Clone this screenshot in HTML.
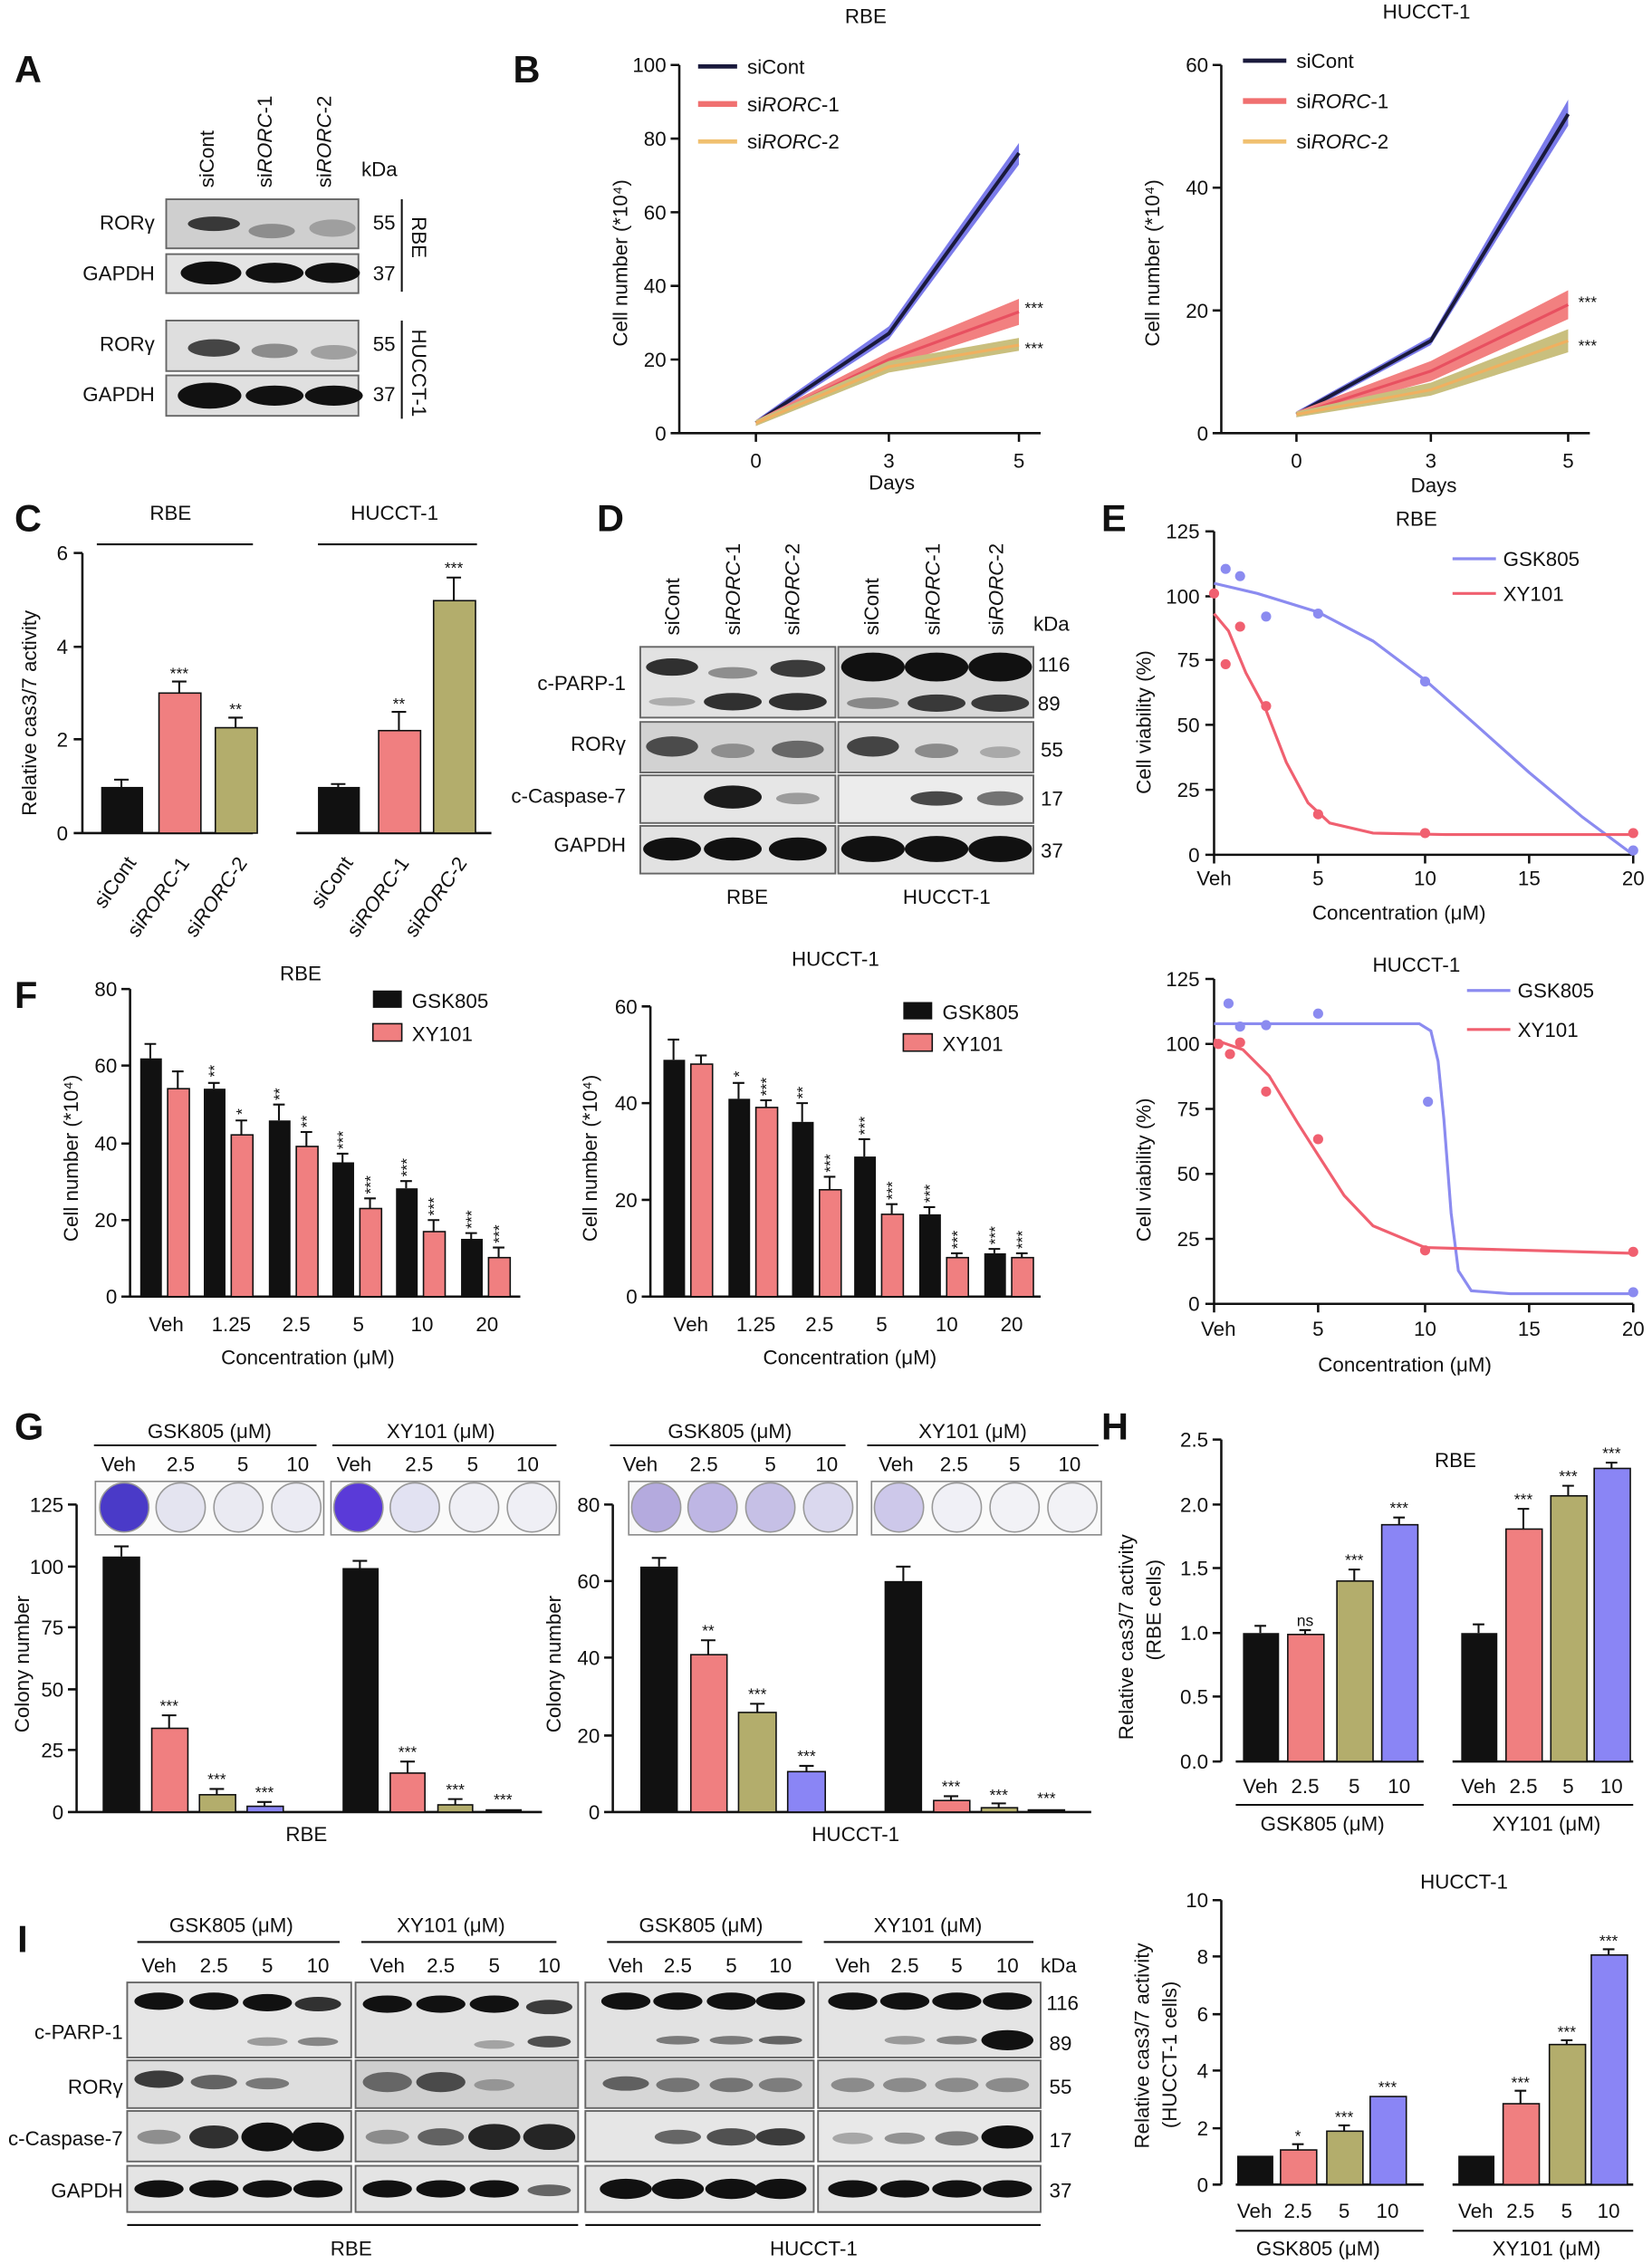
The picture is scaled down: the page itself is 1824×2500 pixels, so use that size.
<!DOCTYPE html>
<html><head><meta charset="utf-8"><style>
html,body{margin:0;padding:0;background:#fff}
svg{display:block}
text{font-family:"Liberation Sans",Arial,sans-serif;fill:#111}
</style></head><body>
<svg width="1824" height="2500" viewBox="0 0 1143 1568" preserveAspectRatio="none" xmlns="http://www.w3.org/2000/svg">
<style>
.t{font-size:14px}.s{font-size:13px}.L{font-size:26px;font-weight:bold}.ax{stroke:#111;stroke-width:1.6;fill:none}
.e{stroke:#111;stroke-width:1.3}.st{font-size:11px}
</style>
<!-- Panel labels -->
<text class="L" x="10" y="57">A</text><text class="L" x="355" y="57">B</text>
<text class="L" x="10" y="368">C</text><text class="L" x="413" y="368">D</text><text class="L" x="762" y="368">E</text>
<text class="L" x="10" y="698">F</text><text class="L" x="10" y="997">G</text><text class="L" x="762" y="997">H</text>
<text class="L" x="12" y="1352">I</text>

<!-- ===== A ===== -->
<g class="t">
<text transform="translate(148,130) rotate(-90)">siCont</text>
<text transform="translate(188,130) rotate(-90)">si<tspan font-style="italic">RORC</tspan>-1</text>
<text transform="translate(229,130) rotate(-90)">si<tspan font-style="italic">RORC</tspan>-2</text>
<text x="250" y="122">kDa</text>
<text x="107" y="159" text-anchor="end">RORγ</text><text x="107" y="194" text-anchor="end">GAPDH</text>
<text x="107" y="243" text-anchor="end">RORγ</text><text x="107" y="278" text-anchor="end">GAPDH</text>
<text x="258" y="159">55</text><text x="258" y="194">37</text><text x="258" y="243">55</text><text x="258" y="278">37</text>
<text transform="translate(285,150) rotate(90)">RBE</text>
<text transform="translate(285,228) rotate(90)">HUCCT-1</text>
</g>
<line x1="278" y1="138" x2="278" y2="202" class="e"/><line x1="278" y1="222" x2="278" y2="290" class="e"/>
<g stroke="#666" stroke-width="1.2">
<rect x="115" y="138" width="133" height="34" fill="#cfcfcf"/><rect x="115" y="176" width="133" height="27" fill="#e4e4e4"/>
<rect x="115" y="222" width="133" height="35" fill="#dedede"/><rect x="115" y="260" width="133" height="28" fill="#e0e0e0"/>
</g>
<g fill="#111">
<ellipse cx="148" cy="155" rx="18" ry="5" opacity=".8"/><ellipse cx="188" cy="160" rx="16" ry="5" opacity=".35"/><ellipse cx="230" cy="158" rx="16" ry="6" opacity=".25"/>
<ellipse cx="146" cy="189" rx="21" ry="8"/><ellipse cx="190" cy="189" rx="20" ry="7"/><ellipse cx="230" cy="189" rx="19" ry="7"/>
<ellipse cx="148" cy="241" rx="18" ry="6" opacity=".75"/><ellipse cx="190" cy="243" rx="16" ry="5" opacity=".4"/><ellipse cx="231" cy="244" rx="16" ry="5" opacity=".3"/>
<ellipse cx="145" cy="274" rx="22" ry="9"/><ellipse cx="190" cy="274" rx="20" ry="7"/><ellipse cx="231" cy="274" rx="20" ry="7"/>
</g>

<!-- ===== B RBE ===== -->
<text class="t" x="599" y="16" text-anchor="middle">RBE</text>
<path class="ax" d="M470,45 V300 H720 M464,45H470 M464,96H470 M464,147H470 M464,198H470 M464,249H470 M464,300H470 M523,300V306 M615,300V306 M705,300V306"/>
<g class="t" text-anchor="end"><text x="461" y="50">100</text><text x="461" y="101">80</text><text x="461" y="152">60</text><text x="461" y="203">40</text><text x="461" y="254">20</text><text x="461" y="305">0</text></g>
<g class="t" text-anchor="middle"><text x="523" y="324">0</text><text x="615" y="324">3</text><text x="705" y="324">5</text><text x="617" y="339">Days</text></g>
<text class="t" transform="translate(434,240) rotate(-90)">Cell number (*10⁴)</text>
<polygon points="523,291 615,226 705,99 705,114 615,235 523,295" fill="#7b7bea"/>
<polyline points="523,293 615,231 705,106" fill="none" stroke="#1a1a3c" stroke-width="2.5"/>
<polygon points="523,291 615,244 705,207 705,225 615,254 523,295" fill="#f28080"/>
<polyline points="523,293 615,249 705,216" fill="none" stroke="#e85060" stroke-width="2"/>
<polygon points="523,291 615,250 705,234 705,243 615,258 523,295" fill="#c9bf7e"/>
<polyline points="523,293 615,254 705,239" fill="none" stroke="#f0b060" stroke-width="2"/>
<line x1="483" y1="46" x2="510" y2="46" stroke="#1a1a3c" stroke-width="3"/><line x1="483" y1="72" x2="510" y2="72" stroke="#f07070" stroke-width="4"/><line x1="483" y1="98" x2="510" y2="98" stroke="#f0c070" stroke-width="3"/>
<g class="t"><text x="517" y="51">siCont</text><text x="517" y="77">si<tspan font-style="italic">RORC</tspan>-1</text><text x="517" y="103">si<tspan font-style="italic">RORC</tspan>-2</text></g>
<g class="st"><text x="709" y="217">***</text><text x="709" y="245">***</text></g>

<!-- ===== B HUCCT ===== -->
<text class="t" x="987" y="13" text-anchor="middle">HUCCT-1</text>
<path class="ax" d="M845,45 V300 H1100 M839,45H845 M839,130H845 M839,215H845 M839,300H845 M897,300V306 M990,300V306 M1085,300V306"/>
<g class="t" text-anchor="end"><text x="836" y="50">60</text><text x="836" y="135">40</text><text x="836" y="220">20</text><text x="836" y="305">0</text></g>
<g class="t" text-anchor="middle"><text x="897" y="324">0</text><text x="990" y="324">3</text><text x="1085" y="324">5</text><text x="992" y="341">Days</text></g>
<text class="t" transform="translate(802,240) rotate(-90)">Cell number (*10⁴)</text>
<polygon points="897,285 990,233 1085,69 1085,87 990,239 897,289" fill="#7b7bea"/>
<polyline points="897,287 990,236 1085,79" fill="none" stroke="#1a1a3c" stroke-width="2.5"/>
<polygon points="897,285 990,250 1085,201 1085,221 990,264 897,289" fill="#f28080"/>
<polyline points="897,287 990,257 1085,211" fill="none" stroke="#e85060" stroke-width="2"/>
<polygon points="897,285 990,265 1085,228 1085,244 990,274 897,289" fill="#c9bf7e"/>
<polyline points="897,287 990,270 1085,236" fill="none" stroke="#f0b060" stroke-width="2"/>
<line x1="860" y1="42" x2="890" y2="42" stroke="#1a1a3c" stroke-width="3"/><line x1="860" y1="70" x2="890" y2="70" stroke="#f07070" stroke-width="4"/><line x1="860" y1="98" x2="890" y2="98" stroke="#f0c070" stroke-width="3"/>
<g class="t"><text x="897" y="47">siCont</text><text x="897" y="75">si<tspan font-style="italic">RORC</tspan>-1</text><text x="897" y="103">si<tspan font-style="italic">RORC</tspan>-2</text></g>
<g class="st"><text x="1092" y="213">***</text><text x="1092" y="243">***</text></g>

<!-- ===== C ===== -->
<g class="t" text-anchor="middle"><text x="118" y="360">RBE</text><text x="273" y="360">HUCCT-1</text></g>
<line x1="67" y1="377" x2="175" y2="377" class="e"/><line x1="220" y1="377" x2="330" y2="377" class="e"/>
<path class="ax" d="M57,383 V577 H175 M205,577 H340 M51,383H57 M51,448H57 M51,512H57 M51,577H57"/>
<g class="t" text-anchor="end"><text x="47" y="388">6</text><text x="47" y="453">4</text><text x="47" y="517">2</text><text x="47" y="582">0</text></g>
<text class="t" transform="translate(25,565) rotate(-90)">Relative cas3/7 activity</text>
<rect x="70" y="545" width="29" height="32" fill="#111"/><rect x="110" y="480" width="29" height="97" fill="#f07f80" stroke="#111"/><rect x="149" y="504" width="29" height="73" fill="#b3ad6c" stroke="#111"/>
<rect x="220" y="545" width="29" height="32" fill="#111"/><rect x="262" y="506" width="29" height="71" fill="#f07f80" stroke="#111"/><rect x="300" y="416" width="29" height="161" fill="#b3ad6c" stroke="#111"/>
<path class="e" d="M84,545V540M79,540H89 M124,480V472M119,472H129 M163,504V497M158,497H168 M234,545V543M229,543H239 M276,506V493M271,493H281 M314,416V400M309,400H319"/>
<g class="st" text-anchor="middle"><text x="124" y="470">***</text><text x="163" y="495">**</text><text x="276" y="491">**</text><text x="314" y="397">***</text></g>
<g class="t">
<text transform="translate(72,630) rotate(-55)" text-anchor="start">siCont</text>
<text transform="translate(95,650) rotate(-55)">si<tspan font-style="italic">RORC</tspan>-1</text>
<text transform="translate(135,650) rotate(-55)">si<tspan font-style="italic">RORC</tspan>-2</text>
<text transform="translate(222,630) rotate(-55)">siCont</text>
<text transform="translate(247,650) rotate(-55)">si<tspan font-style="italic">RORC</tspan>-1</text>
<text transform="translate(287,650) rotate(-55)">si<tspan font-style="italic">RORC</tspan>-2</text>
</g>

<!-- ===== D ===== -->
<g class="t">
<text transform="translate(470,440) rotate(-90)">siCont</text>
<text transform="translate(512,440) rotate(-90)">si<tspan font-style="italic">RORC</tspan>-1</text>
<text transform="translate(553,440) rotate(-90)">si<tspan font-style="italic">RORC</tspan>-2</text>
<text transform="translate(608,440) rotate(-90)">siCont</text>
<text transform="translate(650,440) rotate(-90)">si<tspan font-style="italic">RORC</tspan>-1</text>
<text transform="translate(694,440) rotate(-90)">si<tspan font-style="italic">RORC</tspan>-2</text>
<text x="715" y="437">kDa</text>
<text x="433" y="478" text-anchor="end">c-PARP-1</text><text x="433" y="520" text-anchor="end">RORγ</text>
<text x="433" y="556" text-anchor="end">c-Caspase-7</text><text x="433" y="590" text-anchor="end">GAPDH</text>
<text x="718" y="465">116</text><text x="718" y="492">89</text><text x="720" y="524">55</text><text x="720" y="558">17</text><text x="720" y="594">37</text>
<text x="517" y="626" text-anchor="middle">RBE</text><text x="655" y="626" text-anchor="middle">HUCCT-1</text>
</g>
<g stroke="#666" stroke-width="1.2">
<rect x="443" y="448" width="135" height="49" fill="#e2e2e2"/><rect x="443" y="500" width="135" height="35" fill="#d2d2d2"/><rect x="443" y="537" width="135" height="33" fill="#e6e6e6"/><rect x="443" y="572" width="135" height="33" fill="#e2e2e2"/>
<rect x="580" y="448" width="135" height="49" fill="#d8d8d8"/><rect x="580" y="500" width="135" height="35" fill="#dcdcdc"/><rect x="580" y="537" width="135" height="33" fill="#ececec"/><rect x="580" y="572" width="135" height="33" fill="#e2e2e2"/>
</g>
<g fill="#111">
<ellipse cx="465" cy="462" rx="18" ry="6" opacity=".85"/><ellipse cx="507" cy="466" rx="17" ry="4" opacity=".4"/><ellipse cx="552" cy="463" rx="19" ry="6" opacity=".8"/>
<ellipse cx="465" cy="486" rx="16" ry="3" opacity=".25"/><ellipse cx="507" cy="486" rx="20" ry="6" opacity=".85"/><ellipse cx="552" cy="486" rx="20" ry="6" opacity=".85"/>
<ellipse cx="604" cy="462" rx="22" ry="10"/><ellipse cx="648" cy="462" rx="22" ry="10"/><ellipse cx="692" cy="462" rx="22" ry="10"/>
<ellipse cx="604" cy="487" rx="18" ry="4" opacity=".4"/><ellipse cx="648" cy="487" rx="20" ry="6" opacity=".8"/><ellipse cx="692" cy="487" rx="20" ry="6" opacity=".8"/>
<ellipse cx="465" cy="517" rx="18" ry="7" opacity=".7"/><ellipse cx="507" cy="520" rx="15" ry="5" opacity=".35"/><ellipse cx="552" cy="519" rx="18" ry="6" opacity=".55"/>
<ellipse cx="604" cy="517" rx="18" ry="7" opacity=".75"/><ellipse cx="648" cy="520" rx="15" ry="5" opacity=".4"/><ellipse cx="692" cy="521" rx="14" ry="4" opacity=".25"/>
<ellipse cx="507" cy="552" rx="20" ry="8" opacity=".95"/><ellipse cx="552" cy="553" rx="15" ry="4" opacity=".35"/>
<ellipse cx="648" cy="553" rx="18" ry="5" opacity=".75"/><ellipse cx="692" cy="553" rx="16" ry="5" opacity=".55"/>
<ellipse cx="465" cy="588" rx="20" ry="8"/><ellipse cx="507" cy="588" rx="20" ry="8"/><ellipse cx="552" cy="588" rx="20" ry="8"/>
<ellipse cx="604" cy="588" rx="22" ry="9"/><ellipse cx="648" cy="588" rx="22" ry="9"/><ellipse cx="692" cy="588" rx="22" ry="9"/>
</g>

<!-- ===== E RBE ===== -->
<text class="t" x="980" y="364" text-anchor="middle">RBE</text>
<path class="ax" d="M840,368 V592 H1130 M834,368H840 M834,413H840 M834,457H840 M834,502H840 M834,547H840 M834,592H840 M840,592V598 M912,592V598 M986,592V598 M1058,592V598 M1130,592V598"/>
<g class="t" text-anchor="end"><text x="830" y="373">125</text><text x="830" y="418">100</text><text x="830" y="462">75</text><text x="830" y="507">50</text><text x="830" y="552">25</text><text x="830" y="597">0</text></g>
<g class="t" text-anchor="middle"><text x="840" y="613">Veh</text><text x="912" y="613">5</text><text x="986" y="613">10</text><text x="1058" y="613">15</text><text x="1130" y="613">20</text><text x="968" y="637">Concentration (μM)</text></g>
<text class="t" transform="translate(796,550) rotate(-90)">Cell viability (%)</text>
<polyline points="840,404 870,411 912,424 950,444 986,471 1020,501 1058,535 1095,566 1130,592" fill="none" stroke="#8b8bf0" stroke-width="2"/>
<polyline points="840,425 850,437 862,466 876,492 890,528 905,556 920,570 950,577 1000,578 1130,578" fill="none" stroke="#f06070" stroke-width="2"/>
<g fill="#8b8bf0"><circle cx="848" cy="394" r="3.5"/><circle cx="858" cy="399" r="3.5"/><circle cx="876" cy="427" r="3.5"/><circle cx="912" cy="425" r="3.5"/><circle cx="986" cy="472" r="3.5"/><circle cx="1130" cy="589" r="3.5"/></g>
<g fill="#f06070"><circle cx="840" cy="411" r="3.5"/><circle cx="848" cy="460" r="3.5"/><circle cx="858" cy="434" r="3.5"/><circle cx="876" cy="489" r="3.5"/><circle cx="912" cy="564" r="3.5"/><circle cx="986" cy="577" r="3.5"/><circle cx="1130" cy="577" r="3.5"/></g>
<line x1="1005" y1="387" x2="1035" y2="387" stroke="#8b8bf0" stroke-width="2"/><line x1="1005" y1="411" x2="1035" y2="411" stroke="#f06070" stroke-width="2"/>
<g class="t"><text x="1040" y="392">GSK805</text><text x="1040" y="416">XY101</text></g>

<!-- ===== E HUCCT ===== -->
<text class="t" x="980" y="673" text-anchor="middle">HUCCT-1</text>
<path class="ax" d="M840,678 V903 H1130 M834,678H840 M834,723H840 M834,768H840 M834,813H840 M834,858H840 M834,903H840 M840,903V909 M912,903V909 M986,903V909 M1058,903V909 M1130,903V909"/>
<g class="t" text-anchor="end"><text x="830" y="683">125</text><text x="830" y="728">100</text><text x="830" y="773">75</text><text x="830" y="818">50</text><text x="830" y="863">25</text><text x="830" y="908">0</text></g>
<g class="t" text-anchor="middle"><text x="843" y="925">Veh</text><text x="912" y="925">5</text><text x="986" y="925">10</text><text x="1058" y="925">15</text><text x="1130" y="925">20</text><text x="972" y="950">Concentration (μM)</text></g>
<text class="t" transform="translate(796,860) rotate(-90)">Cell viability (%)</text>
<polyline points="840,709 982,709 990,714 995,735 999,775 1004,840 1009,880 1018,894 1045,896 1130,896" fill="none" stroke="#8b8bf0" stroke-width="2"/>
<polyline points="840,720 860,727 878,745 898,778 912,800 930,828 950,849 986,864 1130,868" fill="none" stroke="#f06070" stroke-width="2"/>
<g fill="#8b8bf0"><circle cx="850" cy="695" r="3.5"/><circle cx="858" cy="711" r="3.5"/><circle cx="876" cy="710" r="3.5"/><circle cx="912" cy="702" r="3.5"/><circle cx="988" cy="763" r="3.5"/><circle cx="1130" cy="895" r="3.5"/></g>
<g fill="#f06070"><circle cx="843" cy="723" r="3.5"/><circle cx="851" cy="730" r="3.5"/><circle cx="858" cy="722" r="3.5"/><circle cx="876" cy="756" r="3.5"/><circle cx="912" cy="789" r="3.5"/><circle cx="986" cy="866" r="3.5"/><circle cx="1130" cy="867" r="3.5"/></g>
<line x1="1015" y1="686" x2="1045" y2="686" stroke="#8b8bf0" stroke-width="2"/><line x1="1015" y1="713" x2="1045" y2="713" stroke="#f06070" stroke-width="2"/>
<g class="t"><text x="1050" y="691">GSK805</text><text x="1050" y="718">XY101</text></g>

<!-- ===== F RBE ===== -->
<text class="t" x="208" y="679" text-anchor="middle">RBE</text>
<path class="ax" d="M90,685 V898 H360 M84,685H90 M84,738H90 M84,792H90 M84,845H90 M84,898H90"/>
<g class="t" text-anchor="end"><text x="81" y="690">80</text><text x="81" y="743">60</text><text x="81" y="797">40</text><text x="81" y="850">20</text><text x="81" y="903">0</text></g>
<text class="t" transform="translate(54,860) rotate(-90)">Cell number (*10⁴)</text>
<g class="t" text-anchor="middle"><text x="115" y="922">Veh</text><text x="160" y="922">1.25</text><text x="205" y="922">2.5</text><text x="248" y="922">5</text><text x="292" y="922">10</text><text x="337" y="922">20</text><text x="213" y="945">Concentration (μM)</text></g>
<g fill="#111"><rect x="97" y="733" width="15" height="165"/><rect x="141" y="754" width="15" height="144"/><rect x="186" y="776" width="15" height="122"/><rect x="230" y="805" width="15" height="93"/><rect x="274" y="823" width="15" height="75"/><rect x="319" y="858" width="15" height="40"/></g>
<g fill="#f07f80" stroke="#111"><rect x="116" y="754" width="15" height="144"/><rect x="160" y="786" width="15" height="112"/><rect x="205" y="794" width="15" height="104"/><rect x="249" y="837" width="15" height="61"/><rect x="293" y="853" width="15" height="45"/><rect x="338" y="871" width="15" height="27"/></g>
<path class="e" d="M104,733V723M100,723H108 M123,754V742M119,742H127 M148,754V750M144,750H152 M167,786V776M163,776H171 M193,776V765M189,765H197 M212,794V784M208,784H216 M237,805V799M233,799H241 M256,837V830M252,830H260 M281,823V818M277,818H285 M300,853V845M296,845H304 M326,858V854M322,854H330 M345,871V864M341,864H349"/>
<g class="st"><text transform="translate(152,746) rotate(-90)">**</text><text transform="translate(171,772) rotate(-90)">*</text><text transform="translate(197,762) rotate(-90)">**</text><text transform="translate(216,781) rotate(-90)">**</text><text transform="translate(241,796) rotate(-90)">***</text><text transform="translate(260,827) rotate(-90)">***</text><text transform="translate(285,815) rotate(-90)">***</text><text transform="translate(304,842) rotate(-90)">***</text><text transform="translate(330,851) rotate(-90)">***</text><text transform="translate(349,861) rotate(-90)">***</text></g>
<rect x="258" y="686" width="20" height="12" fill="#111"/><rect x="258" y="709" width="20" height="12" fill="#f07f80" stroke="#111"/>
<g class="t"><text x="285" y="698">GSK805</text><text x="285" y="721">XY101</text></g>

<!-- ===== F HUCCT ===== -->
<text class="t" x="578" y="669" text-anchor="middle">HUCCT-1</text>
<path class="ax" d="M450,697 V898 H720 M444,697H450 M444,764H450 M444,831H450 M444,898H450"/>
<g class="t" text-anchor="end"><text x="441" y="702">60</text><text x="441" y="769">40</text><text x="441" y="836">20</text><text x="441" y="903">0</text></g>
<text class="t" transform="translate(413,860) rotate(-90)">Cell number (*10⁴)</text>
<g class="t" text-anchor="middle"><text x="478" y="922">Veh</text><text x="523" y="922">1.25</text><text x="567" y="922">2.5</text><text x="610" y="922">5</text><text x="655" y="922">10</text><text x="700" y="922">20</text><text x="588" y="945">Concentration (μM)</text></g>
<g fill="#111"><rect x="459" y="734" width="15" height="164"/><rect x="504" y="761" width="15" height="137"/><rect x="548" y="777" width="15" height="121"/><rect x="591" y="801" width="15" height="97"/><rect x="636" y="841" width="15" height="57"/><rect x="681" y="868" width="15" height="30"/></g>
<g fill="#f07f80" stroke="#111"><rect x="478" y="737" width="15" height="161"/><rect x="523" y="767" width="15" height="131"/><rect x="567" y="824" width="15" height="74"/><rect x="610" y="841" width="15" height="57"/><rect x="655" y="871" width="15" height="27"/><rect x="700" y="871" width="15" height="27"/></g>
<path class="e" d="M466,734V720M462,720H470 M485,737V731M481,731H489 M511,761V750M507,750H515 M530,767V762M526,762H534 M555,777V764M551,764H559 M574,824V815M570,815H578 M598,801V789M594,789H602 M617,841V834M613,834H621 M643,841V836M639,836H647 M662,871V868M658,868H666 M688,868V865M684,865H692 M707,871V868M703,868H711"/>
<g class="st"><text transform="translate(515,746) rotate(-90)">*</text><text transform="translate(534,759) rotate(-90)">***</text><text transform="translate(559,761) rotate(-90)">**</text><text transform="translate(578,812) rotate(-90)">***</text><text transform="translate(602,786) rotate(-90)">***</text><text transform="translate(621,831) rotate(-90)">***</text><text transform="translate(647,833) rotate(-90)">***</text><text transform="translate(666,865) rotate(-90)">***</text><text transform="translate(692,862) rotate(-90)">***</text><text transform="translate(711,865) rotate(-90)">***</text></g>
<rect x="625" y="694" width="20" height="12" fill="#111"/><rect x="625" y="716" width="20" height="12" fill="#f07f80" stroke="#111"/>
<g class="t"><text x="652" y="706">GSK805</text><text x="652" y="728">XY101</text></g>

<!-- ===== G RBE ===== -->
<g class="t" text-anchor="middle"><text x="145" y="996">GSK805 (μM)</text><text x="305" y="996">XY101 (μM)</text>
<text x="82" y="1019">Veh</text><text x="125" y="1019">2.5</text><text x="168" y="1019">5</text><text x="206" y="1019">10</text>
<text x="245" y="1019">Veh</text><text x="290" y="1019">2.5</text><text x="327" y="1019">5</text><text x="365" y="1019">10</text>
<text x="212" y="1275">RBE</text></g>
<line x1="65" y1="1001" x2="219" y2="1001" class="e"/><line x1="230" y1="1001" x2="385" y2="1001" class="e"/>
<rect x="66" y="1026" width="158" height="37" fill="#fafafa" stroke="#888"/><rect x="229" y="1026" width="158" height="37" fill="#fafafa" stroke="#888"/>
<g stroke="#999" stroke-width="1"><circle cx="86" cy="1044" r="17" fill="#4a3ac8"/><circle cx="125" cy="1044" r="17" fill="#e4e4f0"/><circle cx="165" cy="1044" r="17" fill="#eaeaf2"/><circle cx="205" cy="1044" r="17" fill="#ebebf3"/>
<circle cx="248" cy="1044" r="17" fill="#5a3ad8"/><circle cx="287" cy="1044" r="17" fill="#e2e2f2"/><circle cx="328" cy="1044" r="17" fill="#efeff5"/><circle cx="368" cy="1044" r="17" fill="#efeff5"/></g>
<path class="ax" d="M53,1042 V1255 H375 M47,1042H53 M47,1085H53 M47,1127H53 M47,1170H53 M47,1212H53 M47,1255H53"/>
<g class="t" text-anchor="end"><text x="44" y="1047">125</text><text x="44" y="1090">100</text><text x="44" y="1132">75</text><text x="44" y="1175">50</text><text x="44" y="1217">25</text><text x="44" y="1260">0</text></g>
<text class="t" transform="translate(20,1200) rotate(-90)">Colony number</text>
<rect x="71" y="1078" width="26" height="177" fill="#111"/><rect x="105" y="1197" width="25" height="58" fill="#f07f80" stroke="#111"/><rect x="138" y="1243" width="25" height="12" fill="#b3ad6c" stroke="#111"/><rect x="171" y="1251" width="25" height="4" fill="#8a85f5" stroke="#111"/>
<rect x="237" y="1086" width="25" height="169" fill="#111"/><rect x="270" y="1228" width="24" height="27" fill="#f07f80" stroke="#111"/><rect x="303" y="1250" width="24" height="5" fill="#b3ad6c" stroke="#111"/><rect x="336" y="1253" width="25" height="2" fill="#111"/>
<path class="e" d="M84,1078V1071M79,1071H89 M117,1197V1188M112,1188H122 M150,1243V1239M145,1239H155 M183,1251V1248M178,1248H188 M249,1086V1081M244,1081H254 M282,1228V1220M277,1220H287 M315,1250V1246M310,1246H320"/>
<g class="st" text-anchor="middle"><text x="117" y="1185">***</text><text x="150" y="1236">***</text><text x="183" y="1245">***</text><text x="282" y="1217">***</text><text x="315" y="1243">***</text><text x="348" y="1250">***</text></g>

<!-- ===== G HUCCT ===== -->
<g class="t" text-anchor="middle"><text x="505" y="996">GSK805 (μM)</text><text x="673" y="996">XY101 (μM)</text>
<text x="443" y="1019">Veh</text><text x="487" y="1019">2.5</text><text x="533" y="1019">5</text><text x="572" y="1019">10</text>
<text x="620" y="1019">Veh</text><text x="660" y="1019">2.5</text><text x="702" y="1019">5</text><text x="740" y="1019">10</text>
<text x="592" y="1275">HUCCT-1</text></g>
<line x1="422" y1="1001" x2="585" y2="1001" class="e"/><line x1="600" y1="1001" x2="760" y2="1001" class="e"/>
<rect x="435" y="1026" width="158" height="37" fill="#fafafa" stroke="#888"/><rect x="603" y="1026" width="159" height="37" fill="#fafafa" stroke="#888"/>
<g stroke="#999" stroke-width="1"><circle cx="454" cy="1044" r="17" fill="#b4aade"/><circle cx="493" cy="1044" r="17" fill="#beb6e4"/><circle cx="533" cy="1044" r="17" fill="#c6c0e6"/><circle cx="573" cy="1044" r="17" fill="#dad8ee"/>
<circle cx="622" cy="1044" r="17" fill="#cdc8ea"/><circle cx="662" cy="1044" r="17" fill="#f0f0f6"/><circle cx="702" cy="1044" r="17" fill="#f2f2f6"/><circle cx="742" cy="1044" r="17" fill="#f2f2f6"/></g>
<path class="ax" d="M424,1042 V1255 H755 M418,1042H424 M418,1095H424 M418,1148H424 M418,1202H424 M418,1255H424"/>
<g class="t" text-anchor="end"><text x="415" y="1047">80</text><text x="415" y="1100">60</text><text x="415" y="1153">40</text><text x="415" y="1207">20</text><text x="415" y="1260">0</text></g>
<text class="t" transform="translate(388,1200) rotate(-90)">Colony number</text>
<rect x="443" y="1085" width="26" height="170" fill="#111"/><rect x="478" y="1146" width="25" height="109" fill="#f07f80" stroke="#111"/><rect x="511" y="1186" width="26" height="69" fill="#b3ad6c" stroke="#111"/><rect x="545" y="1227" width="26" height="28" fill="#8a85f5" stroke="#111"/>
<rect x="612" y="1095" width="26" height="160" fill="#111"/><rect x="646" y="1247" width="25" height="8" fill="#f07f80" stroke="#111"/><rect x="679" y="1252" width="25" height="3" fill="#b3ad6c" stroke="#111"/><rect x="711" y="1253" width="26" height="2" fill="#111"/>
<path class="e" d="M456,1085V1079M451,1079H461 M490,1146V1136M485,1136H495 M524,1186V1180M519,1180H529 M558,1227V1223M553,1223H563 M625,1095V1085M620,1085H630 M658,1247V1244M653,1244H663 M691,1252V1249M686,1249H696"/>
<g class="st" text-anchor="middle"><text x="490" y="1133">**</text><text x="524" y="1177">***</text><text x="558" y="1220">***</text><text x="658" y="1241">***</text><text x="691" y="1247">***</text><text x="724" y="1249">***</text></g>

<!-- ===== H RBE ===== -->
<text class="t" x="1007" y="1016" text-anchor="middle">RBE</text>
<path class="ax" d="M845,997 V1220 M855,1220H985 M1005,1220H1130 M839,997H845 M839,1042H845 M839,1086H845 M839,1131H845 M839,1175H845 M839,1220H845"/>
<g class="t" text-anchor="end"><text x="836" y="1002">2.5</text><text x="836" y="1047">2.0</text><text x="836" y="1091">1.5</text><text x="836" y="1136">1.0</text><text x="836" y="1180">0.5</text><text x="836" y="1225">0.0</text></g>
<text class="t" transform="translate(784,1205) rotate(-90)">Relative cas3/7 activity</text><text class="t" transform="translate(803,1150) rotate(-90)">(RBE cells)</text>
<rect x="860" y="1131" width="25" height="89" fill="#111"/><rect x="891" y="1132" width="25" height="88" fill="#f07f80" stroke="#111"/><rect x="925" y="1095" width="25" height="125" fill="#b3ad6c" stroke="#111"/><rect x="956" y="1056" width="25" height="164" fill="#8a85f5" stroke="#111"/>
<rect x="1011" y="1131" width="25" height="89" fill="#111"/><rect x="1042" y="1059" width="25" height="161" fill="#f07f80" stroke="#111"/><rect x="1073" y="1036" width="25" height="184" fill="#b3ad6c" stroke="#111"/><rect x="1103" y="1017" width="25" height="203" fill="#8a85f5" stroke="#111"/>
<path class="e" d="M872,1131V1126M868,1126H876 M903,1132V1129M899,1129H907 M937,1095V1087M933,1087H941 M968,1056V1051M964,1051H972 M1023,1131V1125M1019,1125H1027 M1054,1059V1045M1050,1045H1058 M1085,1036V1029M1081,1029H1089 M1115,1017V1013M1111,1013H1119"/>
<g class="st" text-anchor="middle"><text x="903" y="1126">ns</text><text x="937" y="1084">***</text><text x="968" y="1048">***</text><text x="1054" y="1042">***</text><text x="1085" y="1026">***</text><text x="1115" y="1010">***</text></g>
<g class="t" text-anchor="middle"><text x="872" y="1242">Veh</text><text x="903" y="1242">2.5</text><text x="937" y="1242">5</text><text x="968" y="1242">10</text><text x="1023" y="1242">Veh</text><text x="1054" y="1242">2.5</text><text x="1085" y="1242">5</text><text x="1115" y="1242">10</text>
<text x="915" y="1268">GSK805 (μM)</text><text x="1070" y="1268">XY101 (μM)</text></g>
<line x1="855" y1="1250" x2="985" y2="1250" class="e"/><line x1="1005" y1="1250" x2="1130" y2="1250" class="e"/>

<!-- ===== H HUCCT ===== -->
<text class="t" x="1013" y="1308" text-anchor="middle">HUCCT-1</text>
<path class="ax" d="M845,1316 V1513 M855,1513H985 M1005,1513H1130 M839,1316H845 M839,1355H845 M839,1395H845 M839,1434H845 M839,1474H845 M839,1513H845"/>
<g class="t" text-anchor="end"><text x="836" y="1321">10</text><text x="836" y="1360">8</text><text x="836" y="1400">6</text><text x="836" y="1439">4</text><text x="836" y="1479">2</text><text x="836" y="1518">0</text></g>
<text class="t" transform="translate(795,1488) rotate(-90)">Relative cas3/7 activity</text><text class="t" transform="translate(814,1474) rotate(-90)">(HUCCT-1 cells)</text>
<rect x="856" y="1493" width="25" height="20" fill="#111"/><rect x="886" y="1489" width="25" height="24" fill="#f07f80" stroke="#111"/><rect x="918" y="1476" width="25" height="37" fill="#b3ad6c" stroke="#111"/><rect x="948" y="1452" width="25" height="61" fill="#8a85f5" stroke="#111"/>
<rect x="1009" y="1493" width="25" height="20" fill="#111"/><rect x="1040" y="1457" width="25" height="56" fill="#f07f80" stroke="#111"/><rect x="1072" y="1416" width="25" height="97" fill="#b3ad6c" stroke="#111"/><rect x="1101" y="1354" width="25" height="159" fill="#8a85f5" stroke="#111"/>
<path class="e" d="M898,1489V1485M894,1485H902 M930,1476V1472M926,1472H934 M1052,1457V1448M1048,1448H1056 M1084,1416V1413M1080,1413H1088 M1113,1354V1350M1109,1350H1117"/>
<g class="st" text-anchor="middle"><text x="898" y="1483">*</text><text x="930" y="1470">***</text><text x="960" y="1449">***</text><text x="1052" y="1446">***</text><text x="1084" y="1411">***</text><text x="1113" y="1348">***</text></g>
<g class="t" text-anchor="middle"><text x="868" y="1536">Veh</text><text x="898" y="1536">2.5</text><text x="930" y="1536">5</text><text x="960" y="1536">10</text><text x="1021" y="1536">Veh</text><text x="1052" y="1536">2.5</text><text x="1084" y="1536">5</text><text x="1113" y="1536">10</text>
<text x="912" y="1562">GSK805 (μM)</text><text x="1070" y="1562">XY101 (μM)</text></g>
<line x1="855" y1="1545" x2="985" y2="1545" class="e"/><line x1="1005" y1="1545" x2="1130" y2="1545" class="e"/>

<!-- ===== I ===== -->
<g class="t" text-anchor="middle">
<text x="160" y="1338">GSK805 (μM)</text><text x="312" y="1338">XY101 (μM)</text><text x="485" y="1338">GSK805 (μM)</text><text x="642" y="1338">XY101 (μM)</text>
<text x="110" y="1366">Veh</text><text x="148" y="1366">2.5</text><text x="185" y="1366">5</text><text x="220" y="1366">10</text>
<text x="268" y="1366">Veh</text><text x="305" y="1366">2.5</text><text x="342" y="1366">5</text><text x="380" y="1366">10</text>
<text x="433" y="1366">Veh</text><text x="469" y="1366">2.5</text><text x="506" y="1366">5</text><text x="540" y="1366">10</text>
<text x="590" y="1366">Veh</text><text x="626" y="1366">2.5</text><text x="662" y="1366">5</text><text x="697" y="1366">10</text>
<text x="243" y="1562">RBE</text><text x="563" y="1562">HUCCT-1</text>
</g>
<g class="t"><text x="720" y="1366">kDa</text>
<text x="85" y="1412" text-anchor="end">c-PARP-1</text><text x="85" y="1450" text-anchor="end">RORγ</text><text x="85" y="1486" text-anchor="end">c-Caspase-7</text><text x="85" y="1522" text-anchor="end">GAPDH</text>
<text x="724" y="1392">116</text><text x="726" y="1420">89</text><text x="726" y="1450">55</text><text x="726" y="1487">17</text><text x="726" y="1522">37</text></g>
<line x1="95" y1="1345" x2="235" y2="1345" class="e"/><line x1="250" y1="1345" x2="385" y2="1345" class="e"/><line x1="420" y1="1345" x2="555" y2="1345" class="e"/><line x1="570" y1="1345" x2="715" y2="1345" class="e"/>
<line x1="88" y1="1541" x2="400" y2="1541" class="e"/><line x1="405" y1="1541" x2="720" y2="1541" class="e"/>
<g stroke="#666" stroke-width="1.2">
<rect x="88" y="1373" width="155" height="52" fill="#e6e6e6"/><rect x="88" y="1427" width="155" height="33" fill="#dedede"/><rect x="88" y="1462" width="155" height="35" fill="#e2e2e2"/><rect x="88" y="1500" width="155" height="32" fill="#e4e4e4"/>
<rect x="246" y="1373" width="154" height="52" fill="#e2e2e2"/><rect x="246" y="1427" width="154" height="33" fill="#cfcfcf"/><rect x="246" y="1462" width="154" height="35" fill="#dcdcdc"/><rect x="246" y="1500" width="154" height="32" fill="#e4e4e4"/>
<rect x="405" y="1373" width="158" height="52" fill="#e2e2e2"/><rect x="405" y="1427" width="158" height="33" fill="#d6d6d6"/><rect x="405" y="1462" width="158" height="35" fill="#e6e6e6"/><rect x="405" y="1500" width="158" height="32" fill="#e4e4e4"/>
<rect x="566" y="1373" width="154" height="52" fill="#e4e4e4"/><rect x="566" y="1427" width="154" height="33" fill="#dcdcdc"/><rect x="566" y="1462" width="154" height="35" fill="#e8e8e8"/><rect x="566" y="1500" width="154" height="32" fill="#e4e4e4"/>
</g>
<g fill="#111">
<ellipse cx="110" cy="1386" rx="17" ry="6"/><ellipse cx="148" cy="1386" rx="17" ry="6"/><ellipse cx="185" cy="1387" rx="17" ry="6"/><ellipse cx="220" cy="1388" rx="16" ry="5" opacity=".85"/>
<ellipse cx="268" cy="1388" rx="17" ry="6"/><ellipse cx="305" cy="1388" rx="17" ry="6"/><ellipse cx="342" cy="1388" rx="17" ry="6"/><ellipse cx="380" cy="1390" rx="16" ry="5" opacity=".8"/>
<ellipse cx="433" cy="1386" rx="17" ry="6"/><ellipse cx="469" cy="1386" rx="17" ry="6"/><ellipse cx="506" cy="1386" rx="17" ry="6"/><ellipse cx="540" cy="1386" rx="17" ry="6"/>
<ellipse cx="590" cy="1386" rx="17" ry="6"/><ellipse cx="626" cy="1386" rx="17" ry="6"/><ellipse cx="662" cy="1386" rx="17" ry="6"/><ellipse cx="697" cy="1386" rx="17" ry="6"/>
<ellipse cx="185" cy="1414" rx="14" ry="3" opacity=".35"/><ellipse cx="220" cy="1414" rx="14" ry="3" opacity=".45"/>
<ellipse cx="342" cy="1416" rx="14" ry="3" opacity=".3"/><ellipse cx="380" cy="1414" rx="15" ry="4" opacity=".7"/>
<ellipse cx="469" cy="1413" rx="15" ry="3" opacity=".5"/><ellipse cx="506" cy="1413" rx="15" ry="3" opacity=".5"/><ellipse cx="540" cy="1413" rx="15" ry="3" opacity=".6"/>
<ellipse cx="626" cy="1413" rx="14" ry="3" opacity=".35"/><ellipse cx="662" cy="1413" rx="14" ry="3" opacity=".45"/><ellipse cx="697" cy="1413" rx="18" ry="7"/>
<ellipse cx="110" cy="1440" rx="17" ry="6" opacity=".8"/><ellipse cx="148" cy="1442" rx="16" ry="5" opacity=".6"/><ellipse cx="185" cy="1443" rx="15" ry="4" opacity=".5"/>
<ellipse cx="268" cy="1442" rx="17" ry="7" opacity=".55"/><ellipse cx="305" cy="1442" rx="17" ry="7" opacity=".7"/><ellipse cx="342" cy="1444" rx="14" ry="4" opacity=".3"/>
<ellipse cx="433" cy="1443" rx="16" ry="5" opacity=".6"/><ellipse cx="469" cy="1444" rx="15" ry="5" opacity=".5"/><ellipse cx="506" cy="1444" rx="15" ry="5" opacity=".5"/><ellipse cx="540" cy="1444" rx="15" ry="5" opacity=".45"/>
<ellipse cx="590" cy="1444" rx="15" ry="5" opacity=".4"/><ellipse cx="626" cy="1444" rx="15" ry="5" opacity=".4"/><ellipse cx="662" cy="1444" rx="15" ry="5" opacity=".4"/><ellipse cx="697" cy="1444" rx="15" ry="5" opacity=".4"/>
<ellipse cx="110" cy="1480" rx="15" ry="5" opacity=".4"/><ellipse cx="148" cy="1480" rx="17" ry="8" opacity=".85"/><ellipse cx="185" cy="1480" rx="18" ry="10"/><ellipse cx="220" cy="1480" rx="18" ry="10"/>
<ellipse cx="268" cy="1480" rx="15" ry="5" opacity=".4"/><ellipse cx="305" cy="1480" rx="16" ry="6" opacity=".6"/><ellipse cx="342" cy="1480" rx="18" ry="9" opacity=".9"/><ellipse cx="380" cy="1480" rx="18" ry="9" opacity=".9"/>
<ellipse cx="469" cy="1480" rx="16" ry="5" opacity=".6"/><ellipse cx="506" cy="1480" rx="17" ry="6" opacity=".7"/><ellipse cx="540" cy="1480" rx="17" ry="6" opacity=".8"/>
<ellipse cx="590" cy="1481" rx="14" ry="4" opacity=".3"/><ellipse cx="626" cy="1481" rx="14" ry="4" opacity=".4"/><ellipse cx="662" cy="1481" rx="15" ry="5" opacity=".5"/><ellipse cx="697" cy="1480" rx="18" ry="8"/>
<ellipse cx="110" cy="1516" rx="17" ry="6"/><ellipse cx="148" cy="1516" rx="17" ry="6"/><ellipse cx="185" cy="1516" rx="17" ry="6"/><ellipse cx="220" cy="1516" rx="17" ry="6"/>
<ellipse cx="268" cy="1516" rx="17" ry="6"/><ellipse cx="305" cy="1516" rx="17" ry="6"/><ellipse cx="342" cy="1516" rx="17" ry="6"/><ellipse cx="380" cy="1517" rx="15" ry="4" opacity=".6"/>
<ellipse cx="433" cy="1516" rx="18" ry="7"/><ellipse cx="469" cy="1516" rx="18" ry="7"/><ellipse cx="506" cy="1516" rx="18" ry="7"/><ellipse cx="540" cy="1516" rx="18" ry="7"/>
<ellipse cx="590" cy="1516" rx="17" ry="6"/><ellipse cx="626" cy="1516" rx="17" ry="6"/><ellipse cx="662" cy="1516" rx="17" ry="6"/><ellipse cx="697" cy="1516" rx="17" ry="6"/>
</g>
</svg>
</body></html>
